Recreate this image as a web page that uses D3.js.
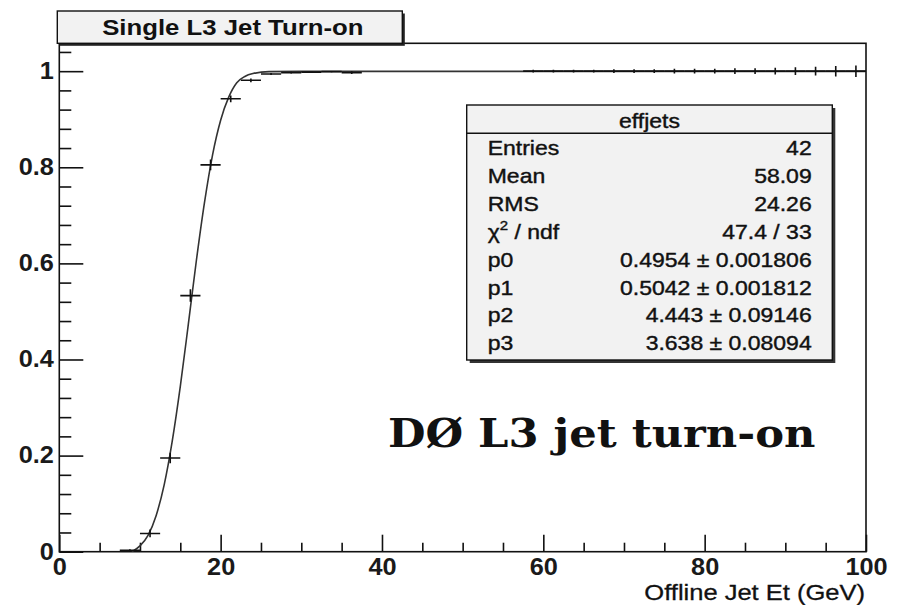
<!DOCTYPE html>
<html>
<head>
<meta charset="utf-8">
<script src="https://cdn.jsdelivr.net/npm/d3@7"></script>
<style>
  html, body { margin: 0; padding: 0; background: #fff; }
  svg { display: block; }
</style>
</head>
<body>
<svg id="chart" width="897" height="605"></svg>
<script>
// Efficiency histogram: bin centres (GeV), efficiency and its error
const binCenters = [8.75, 11.25, 13.75, 16.25, 18.75, 21.25, 23.75, 26.25, 28.75, 31.25, 33.75, 36.25,
  58.75, 61.25, 63.75, 66.25, 68.75, 71.25, 73.75, 76.25, 78.75, 81.25, 83.75, 86.25, 88.75, 91.25, 93.75, 96.25, 98.75];
const efficiency = [0.003, 0.038, 0.195, 0.533, 0.805, 0.9425, 0.981, 0.994, 0.997, 0.998, 0.999, 0.997,
  1, 1, 1, 1, 1, 1, 1, 1, 1, 1, 1, 1, 1, 1, 1, 1, 1];
const effError = [0.002, 0.008, 0.011, 0.013, 0.011, 0.007, 0.004, 0.002, 0.002, 0.001, 0.001, 0.003,
  0.003, 0.003, 0.003, 0.003, 0.004, 0.004, 0.004, 0.005, 0.005, 0.005, 0.006, 0.006, 0.007, 0.008, 0.009, 0.011, 0.012];
const binHalfWidth = 1.25;

// Fitted turn-on curve, sampled points (GeV, efficiency)
const fitX = [9, 10, 11, 12, 13, 14, 15, 16, 17, 18, 19, 20, 21, 22, 23, 24, 26, 30, 40, 60, 80, 100];
const fitY = [0.0, 0.012, 0.034, 0.075, 0.139, 0.230, 0.344, 0.474, 0.607, 0.727, 0.826, 0.898, 0.946, 0.976, 0.989, 0.995, 0.999, 0.9996, 0.9996, 0.9996, 0.9996, 0.9996];

// Axis ticks
const xMajorTicks = [0, 20, 40, 60, 80, 100];
const xMinorTicks = [5, 10, 15, 25, 30, 35, 45, 50, 55, 65, 70, 75, 85, 90, 95];
const yMajorTicks = [0, 0.2, 0.4, 0.6, 0.8, 1];
const yMinorTicks = [0.04, 0.08, 0.12, 0.16, 0.24, 0.28, 0.32, 0.36, 0.44, 0.48, 0.52, 0.56,
  0.64, 0.68, 0.72, 0.76, 0.84, 0.88, 0.92, 0.96, 1.04];
const yMajorLabels = ["0", "0.2", "0.4", "0.6", "0.8", "1"];

// Statistics box contents
const statsTitle = "effjets";
const statNames = ["Entries", "Mean", "RMS", "chi2", "p0", "p1", "p2", "p3"];
const statValues = ["42", "58.09", "24.26", "47.4 / 33", "0.4954 \u00b1 0.001806", "0.5042 \u00b1 0.001812",
  "4.443 \u00b1 0.09146", "3.638 \u00b1 0.08094"];

const chartTitle = "Single L3 Jet Turn-on";
const xAxisTitle = "Offline Jet Et (GeV)";
const annotation = "D\u00d8 L3 jet turn-on";

// ---- layout ----
const frame = { left: 59.3, right: 866, top: 43.3, bottom: 551.7 };
const svg = d3.select("#chart");
const SANS = "'Liberation Sans', Arial, Helvetica, sans-serif";

const x = d3.scaleLinear().domain([0, 100]).range([frame.left, frame.right]);
const y = d3.scaleLinear().domain([0, 1.058]).range([frame.bottom, frame.top]);

// Axes (ticks drawn inward)
const xAxisG = svg.append("g").attr("transform", `translate(0,${frame.bottom})`);
xAxisG.call(d3.axisBottom(x).tickValues(xMajorTicks).tickSize(-17).tickPadding(7).tickFormat(d => String(d)));
xAxisG.append("g").call(d3.axisBottom(x).tickValues(xMinorTicks).tickSize(-9).tickFormat(""));

const yAxisG = svg.append("g").attr("transform", `translate(${frame.left},0)`);
yAxisG.call(d3.axisLeft(y).tickValues(yMajorTicks).tickSize(-24).tickPadding(5)
  .tickFormat((d, i) => yMajorLabels[i]));
yAxisG.append("g").call(d3.axisLeft(y).tickValues(yMinorTicks).tickSize(-12).tickFormat(""));

svg.selectAll(".domain").remove();
svg.selectAll(".tick line").attr("stroke", "#111").attr("stroke-width", 1.6);
svg.selectAll(".tick text")
  .attr("font-family", SANS).attr("font-weight", "bold").attr("font-size", 23)
  .attr("fill", "#1a1a1a")
  .attr("transform", "scale(1.1,1)");

// Frame
svg.append("rect")
  .attr("x", frame.left).attr("y", frame.top)
  .attr("width", frame.right - frame.left).attr("height", frame.bottom - frame.top)
  .attr("fill", "none").attr("stroke", "#111").attr("stroke-width", 1.6);

// Clip for data region
svg.append("clipPath").attr("id", "plotClip").append("rect")
  .attr("x", frame.left).attr("y", frame.top)
  .attr("width", frame.right - frame.left).attr("height", frame.bottom - frame.top);

const plot = svg.append("g").attr("clip-path", "url(#plotClip)");

// Fit curve
const fitPoints = fitX.map((d, i) => [d, fitY[i]]);
plot.append("path")
  .datum(fitPoints)
  .attr("fill", "none")
  .attr("stroke", "#333")
  .attr("stroke-width", 1.6)
  .attr("d", d3.line().x(d => x(d[0])).y(d => y(d[1])).curve(d3.curveMonotoneX));

// Data points with error bars
const pts = binCenters.map((c, i) => ({ c, v: efficiency[i], e: effError[i] }));
const marks = plot.append("g").attr("stroke", "#111").attr("stroke-width", 1.6);
marks.selectAll("line.h").data(pts).join("line").attr("class", "h")
  .attr("x1", d => x(d.c - binHalfWidth)).attr("x2", d => x(d.c + binHalfWidth))
  .attr("y1", d => y(d.v)).attr("y2", d => y(d.v));
marks.selectAll("line.v").data(pts).join("line").attr("class", "v")
  .attr("x1", d => x(d.c)).attr("x2", d => x(d.c))
  .attr("y1", d => y(d.v - d.e)).attr("y2", d => y(d.v + d.e));

// Helper for horizontally stretched text
function sText(parent, str, tx, ty, opts) {
  const t = parent.append("text")
    .attr("transform", `translate(${tx},${ty}) scale(${opts.sx || 1},1)`)
    .attr("font-family", opts.family || SANS)
    .attr("font-size", opts.size)
    .attr("font-weight", opts.weight || "normal")
    .attr("text-anchor", opts.anchor || "start")
    .attr("fill", opts.fill || "#111");
  if (opts.heavy) t.attr("stroke", "#111").attr("stroke-width", opts.heavy);
  if (str !== null) t.text(str);
  return t;
}

// Title box
const tb = { x: 57.3, y: 11, w: 345, h: 32.3 };
svg.append("rect").attr("x", tb.x + 2.5).attr("y", tb.y + 2.5).attr("width", tb.w).attr("height", tb.h).attr("fill", "#222");
svg.append("rect").attr("x", tb.x).attr("y", tb.y).attr("width", tb.w).attr("height", tb.h)
  .attr("fill", "#f2f2f2").attr("stroke", "#111").attr("stroke-width", 1.4);
sText(svg, chartTitle, tb.x + tb.w / 2 + 3, 34.5, { size: 23, weight: "bold", anchor: "middle", sx: 1.12 });

// Stats box
const sb = { x: 466.7, y: 105, w: 365.6, h: 255, header: 28.3 };
svg.append("rect").attr("x", sb.x + 3).attr("y", sb.y + 3).attr("width", sb.w).attr("height", sb.h).attr("fill", "#333");
svg.append("rect").attr("x", sb.x).attr("y", sb.y).attr("width", sb.w).attr("height", sb.h)
  .attr("fill", "#f2f2f2").attr("stroke", "#111").attr("stroke-width", 1.4);
svg.append("line").attr("x1", sb.x).attr("x2", sb.x + sb.w)
  .attr("y1", sb.y + sb.header).attr("y2", sb.y + sb.header)
  .attr("stroke", "#111").attr("stroke-width", 1.4);
sText(svg, statsTitle, sb.x + sb.w / 2, 128, { size: 20, anchor: "middle", sx: 1.15, heavy: 0.4 });

statNames.forEach((name, i) => {
  const by = 155 + i * 27.9;
  if (name === "chi2") {
    const t = sText(svg, null, 487.7, by, { size: 20, sx: 1.15, heavy: 0.4 });
    t.append("tspan").text("\u03c7");
    t.append("tspan").attr("font-size", 13).attr("dy", -9).text("2");
    t.append("tspan").attr("dy", 9).text(" / ndf");
  } else {
    sText(svg, name, 487.7, by, { size: 20, sx: 1.15, heavy: 0.4 });
  }
  sText(svg, statValues[i], 811.7, by, { size: 20, anchor: "end", sx: 1.15, heavy: 0.4 });
});

// X axis title
sText(svg, xAxisTitle, 865, 600, { size: 22, anchor: "end", sx: 1.16, heavy: 0.3 });

// Annotation
sText(svg, annotation, 388, 447, { size: 40, weight: "bold", family: "'DejaVu Serif', serif", sx: 1.08 });
</script>
</body>
</html>
